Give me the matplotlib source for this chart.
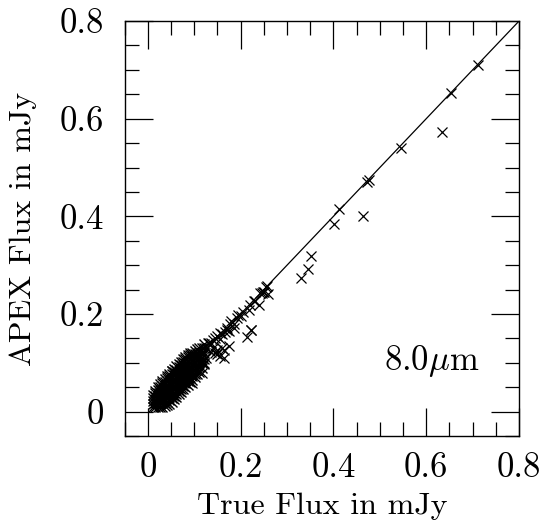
import matplotlib
matplotlib.use("Agg")
import matplotlib.pyplot as plt
from matplotlib.ticker import MultipleLocator, FuncFormatter

plt.rcParams['font.family'] = ['cmr10', 'DejaVu Serif']
plt.rcParams['mathtext.fontset'] = 'cm'
plt.rcParams['axes.unicode_minus'] = False

# dense faint-source cluster: true flux of each column, APEX fluxes in it
core_true_cols = [0.011, 0.016, 0.021, 0.026, 0.031, 0.036, 0.041, 0.046,
                  0.051, 0.056, 0.061, 0.066, 0.071, 0.076, 0.081, 0.086,
                  0.091, 0.096, 0.101, 0.106, 0.111, 0.116, 0.121]
core_apex_cols = [
    [0.010, 0.016, 0.022, 0.028, 0.034],
    [0.010, 0.017, 0.024, 0.031, 0.038, 0.043],
    [0.010, 0.017, 0.024, 0.031, 0.038, 0.045, 0.050],
    [0.010, 0.017, 0.024, 0.031, 0.038, 0.045, 0.051, 0.056],
    [0.010, 0.017, 0.024, 0.031, 0.038, 0.045, 0.052, 0.058, 0.062],
    [0.011, 0.018, 0.025, 0.032, 0.039, 0.046, 0.053, 0.060, 0.066],
    [0.013, 0.020, 0.027, 0.034, 0.041, 0.048, 0.055, 0.062, 0.068, 0.073],
    [0.016, 0.023, 0.030, 0.037, 0.044, 0.051, 0.058, 0.065, 0.072, 0.078],
    [0.020, 0.027, 0.034, 0.041, 0.048, 0.055, 0.062, 0.069, 0.076, 0.083],
    [0.025, 0.032, 0.039, 0.046, 0.053, 0.060, 0.067, 0.074, 0.081, 0.088],
    [0.030, 0.037, 0.044, 0.051, 0.058, 0.065, 0.072, 0.079, 0.086, 0.093],
    [0.035, 0.042, 0.049, 0.056, 0.063, 0.070, 0.077, 0.084, 0.091, 0.097],
    [0.040, 0.047, 0.054, 0.061, 0.068, 0.075, 0.082, 0.089, 0.096, 0.102],
    [0.046, 0.053, 0.060, 0.067, 0.074, 0.081, 0.088, 0.095, 0.102, 0.107],
    [0.051, 0.058, 0.065, 0.072, 0.079, 0.086, 0.093, 0.100, 0.107, 0.112],
    [0.055, 0.062, 0.069, 0.076, 0.083, 0.090, 0.097, 0.104, 0.111, 0.116],
    [0.060, 0.068, 0.076, 0.084, 0.092, 0.100, 0.108, 0.115, 0.120],
    [0.065, 0.073, 0.081, 0.089, 0.097, 0.105, 0.113, 0.120],
    [0.070, 0.078, 0.086, 0.094, 0.102, 0.110, 0.118, 0.125],
    [0.076, 0.085, 0.094, 0.103, 0.112, 0.121, 0.129],
    [0.082, 0.092, 0.102, 0.112, 0.122, 0.131],
    [0.090, 0.100, 0.110, 0.120, 0.130],
    [0.097, 0.108, 0.119, 0.130, 0.138],
]

# brighter, sparser sources
bright_true = [
    0.052, 0.095, 0.091, 0.098, 0.116, 0.120, 0.125, 0.126, 0.131, 0.130,
    0.135, 0.136, 0.140, 0.140, 0.145, 0.145, 0.149, 0.149, 0.150, 0.156,
    0.156, 0.156, 0.159, 0.160, 0.163, 0.164, 0.166, 0.170, 0.170, 0.174,
    0.175, 0.178, 0.180, 0.185, 0.186, 0.192, 0.195, 0.200, 0.205, 0.213,
    0.217, 0.221, 0.222, 0.223, 0.229, 0.231, 0.239, 0.242, 0.245, 0.248,
    0.251, 0.254, 0.256, 0.259, 0.330, 0.345, 0.351, 0.402, 0.412, 0.463,
    0.472, 0.476, 0.546, 0.634, 0.654, 0.711,
]
bright_apex = [
    0.083, 0.059, 0.076, 0.118, 0.080, 0.100, 0.110, 0.131, 0.141, 0.141,
    0.122, 0.140, 0.131, 0.147, 0.120, 0.150, 0.127, 0.155, 0.117, 0.114,
    0.148, 0.162, 0.131, 0.158, 0.110, 0.127, 0.163, 0.168, 0.172, 0.134,
    0.165, 0.179, 0.185, 0.172, 0.180, 0.192, 0.198, 0.195, 0.205, 0.153,
    0.209, 0.219, 0.168, 0.168, 0.226, 0.226, 0.219, 0.243, 0.243, 0.245,
    0.245, 0.256, 0.257, 0.240, 0.273, 0.292, 0.319, 0.384, 0.414, 0.400,
    0.470, 0.475, 0.541, 0.573, 0.652, 0.709,
]

# one-to-one line
line_xy = [0.01, 0.8]

core_true = [x for x, ys in zip(core_true_cols, core_apex_cols) for _ in ys]
core_apex = [y for ys in core_apex_cols for y in ys]

fig = plt.figure(figsize=(5.45, 5.27), dpi=100)
ax = fig.add_axes([0.2288, 0.1727, 0.7235, 0.7873])

ax.plot(line_xy, line_xy, color='black', lw=0.9)
ax.plot(core_true, core_apex, 'x', color='black', ms=6.5, mew=1.0)
ax.plot(bright_true, bright_apex, 'x', color='black', ms=6.5, mew=0.9)

ax.set_xlim(-0.05, 0.8)
ax.set_ylim(-0.05, 0.8)

fmt = FuncFormatter(lambda v, p: '0' if abs(v) < 1e-9 else f'{v:.1f}')
for axis in (ax.xaxis, ax.yaxis):
    axis.set_major_locator(MultipleLocator(0.2))
    axis.set_minor_locator(MultipleLocator(0.05))
    axis.set_major_formatter(fmt)

ax.tick_params(which='both', direction='in', top=True, right=True, width=0.9)
ax.tick_params(which='major', length=20, labelsize=25)
ax.tick_params(which='minor', length=10)
ax.tick_params(axis='x', pad=12)
ax.tick_params(axis='y', pad=15)
for s in ax.spines.values():
    s.set_linewidth(1.0)

ax.set_xlabel('True Flux in mJy', fontsize=23, labelpad=6)
ax.set_ylabel('APEX Flux in mJy', fontsize=23)
ax.yaxis.set_label_coords(-0.222, 0.5)

ax.text(0.612, 0.103, r'8.0$\mu$m', fontsize=25, ha='center', va='center')

fig.savefig('out.png', dpi=100)
